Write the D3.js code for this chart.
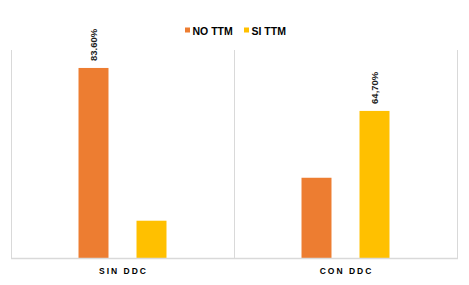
<!DOCTYPE html>
<html>
<head>
<meta charset="utf-8">
<script src="https://cdn.jsdelivr.net/npm/d3@7"></script>
<style>
  body { margin: 0; background: #fff; }
  svg { display: block; font-family: Arial, "Liberation Sans", sans-serif; }
</style>
</head>
<body>
<svg id="chart"></svg>
<script>
// data
const categories = ["SIN DDC", "CON DDC"];
const series = ["NO TTM", "SI TTM"];
const noTTM = [0.836, 0.353];
const siTTM = [0.164, 0.647];
const valueLabels = [["83.60%", null], [null, "64,70%"]]; // [category][series]
const colors = ["#ED7D31", "#FFC000"];

const width = 469, height = 285;
const svg = d3.select("#chart").attr("width", width).attr("height", height);

// plot area
const plotLeft = 11, plotRight = 457, plotTop = 50, plotBottom = 258;

const x0 = d3.scaleBand().domain(categories).range([plotLeft, plotRight]).padding(0);
const x1 = d3.scaleBand().domain(series).range([0, x0.bandwidth()])
    .paddingInner(0.483).paddingOuter(1.164);
const y = d3.scaleLinear().domain([0, 0.915]).range([plotBottom, plotTop]);
const color = d3.scaleOrdinal().domain(series).range(colors);

// separators between categories (left, middle, right)
const seps = categories.map(c => x0(c)).concat([x0(categories[categories.length - 1]) + x0.bandwidth()]);
svg.selectAll("line.sep").data(seps).enter().append("line")
    .attr("class", "sep")
    .attr("x1", d => d + 0.5).attr("x2", d => d + 0.5)
    .attr("y1", plotTop).attr("y2", plotBottom)
    .attr("stroke", "#d9d9d9").attr("stroke-width", 1);

// bars
const rows = categories.map((c, i) => ({ cat: c, vals: [noTTM[i], siTTM[i]], labels: valueLabels[i] }));
const groups = svg.selectAll("g.cat").data(rows).enter().append("g")
    .attr("class", "cat")
    .attr("transform", d => `translate(${x0(d.cat)},0)`);

groups.selectAll("rect").data(d => d.vals.map((v, j) => ({ s: series[j], v: v, label: d.labels[j] })))
    .enter().append("rect")
    .attr("x", d => x1(d.s))
    .attr("width", x1.bandwidth())
    .attr("y", d => y(d.v))
    .attr("height", d => y(0) - y(d.v))
    .attr("fill", d => color(d.s));

// rotated value labels (only the largest per category)
groups.selectAll("text.val").data(d => d.vals.map((v, j) => ({ s: series[j], v: v, label: d.labels[j] })).filter(d => d.label))
    .enter().append("text")
    .attr("class", "val")
    .attr("transform", d => `translate(${x1(d.s) + x1.bandwidth() / 2 + 3.5},${y(d.v) - 7}) rotate(-90)`)
    .attr("text-anchor", "start")
    .style("font-size", "9.5px")
    .style("font-weight", "bold")
    .attr("fill", "#222")
    .text(d => d.label);

// bottom axis line
svg.append("line")
    .attr("x1", plotLeft).attr("x2", plotRight + 1)
    .attr("y1", plotBottom + 0.5).attr("y2", plotBottom + 0.5)
    .attr("stroke", "#d9d9d9").attr("stroke-width", 1.5);

// category labels
svg.selectAll("text.cat").data(categories).enter().append("text")
    .attr("class", "cat")
    .attr("x", d => x0(d) + x0.bandwidth() / 2 + 1)
    .attr("y", 274)
    .attr("text-anchor", "middle")
    .style("font-size", "8.5px")
    .style("font-weight", "bold")
    .style("letter-spacing", "2px")
    .attr("fill", "#000")
    .text(d => d);

// legend
const legendX = [185, 244];
const legend = svg.selectAll("g.leg").data(series).enter().append("g")
    .attr("class", "leg")
    .attr("transform", (d, i) => `translate(${legendX[i]},27.5)`);
legend.append("rect")
    .attr("width", 5).attr("height", 5)
    .attr("fill", d => color(d));
legend.append("text")
    .attr("x", 7.5).attr("y", 7)
    .style("font-size", "10.5px")
    .style("font-weight", "bold")
    .attr("fill", "#000")
    .text(d => d);
</script>
</body>
</html>
